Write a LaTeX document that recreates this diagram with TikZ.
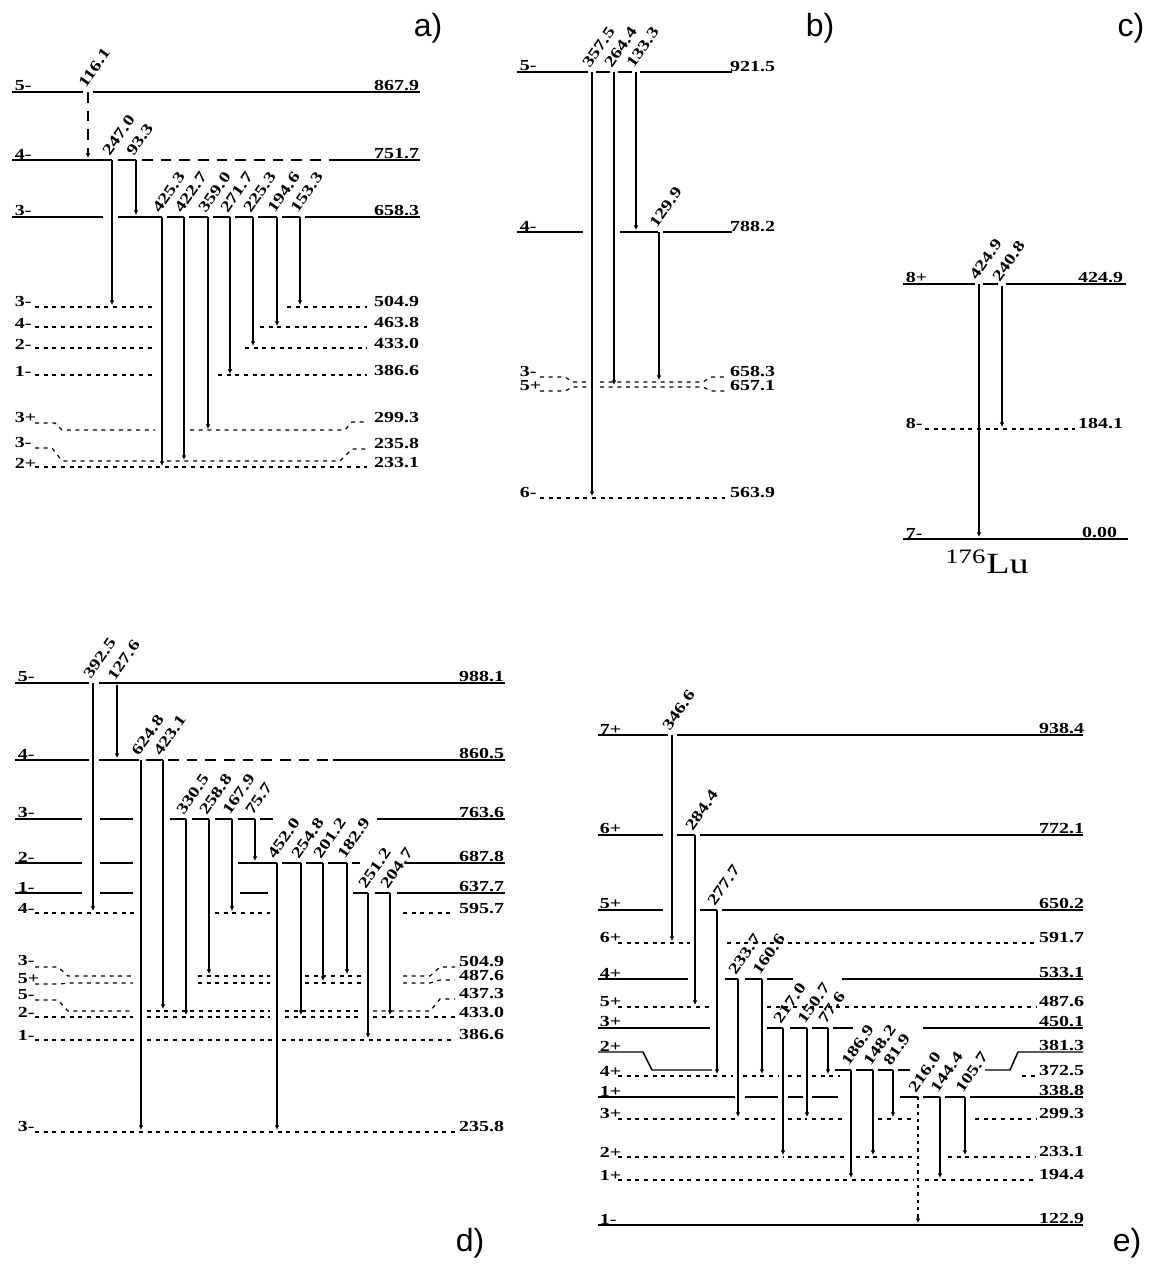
\documentclass[tikz,border=0pt]{standalone}
\usepackage{graphicx}
\usepackage{fontspec}
\setmainfont{Liberation Serif}
\newfontfamily\sansf{Liberation Sans}
\usetikzlibrary{arrows.meta}
\newcommand\mytxt[1]{\scalebox{1.3}[1]{\fontsize{11.5}{12}\selectfont\bfseries #1}}
\newcounter{nn}
\tikzset{
 lev/.style={line width=1.1pt},
 dl/.style={line width=0.9pt, dash pattern=on 3pt off 3.5pt},
 ldl/.style={line width=1pt, dash pattern=on 8pt off 6pt},
 sdl/.style={dash pattern=on 2.5pt off 3pt},
 tr/.style={line width=1pt, -{Latex[length=3.5pt,width=3.5pt]}},
 ll/.style={anchor=south west, inner sep=0.5pt},
 rl/.style={anchor=south east, inner sep=0.5pt},
 tl/.style={anchor=south west, inner sep=0pt, rotate=55},
 pl/.style={font=\sansf\fontsize{24}{26}\selectfont}
}
\newcommand\LL[3]{\stepcounter{nn}\node[ll] (n\thenn) at (#1,#2) {\mytxt{#3}};}
\newcommand\RL[3]{\stepcounter{nn}\node[rl] (n\thenn) at (#1,#2) {\mytxt{#3}};}
\newcommand\TR[6][]{\coordinate (#2t) at (#3,#4); \coordinate (#2b) at (#3,#5);
  \draw[tr,#1] (#2t) -- (#2b);
  \node[tl] (#2l) at ([shift={(-2,-3)}]#2t) {\mytxt{#6}};}
\newcommand\SL[3][lev]{\foreach \xa/\xb in {#3} {\draw[#1] (\xa,#2) -- (\xb,#2);}}
\begin{document}
\begin{tikzpicture}[x=0.75pt,y=-0.75pt]
\useasboundingbox (0,0) rectangle (1152,1264);
% ---------------- panel labels
\node[pl] (pa) at (428,28) {a)};
\node[pl] (pb) at (820,28) {b)};
\node[pl] (pc) at (1131,28) {c)};
\node[pl] (pd) at (470,1243) {d)};
\node[pl] (pe) at (1127,1243) {e)};
% ---------------- panel a
\LL{14}{92}{5-} \RL{420}{92}{867.9} \SL{92}{12/83,93/420}
\LL{14}{160}{4-} \RL{420}{160}{751.7} \SL{160}{12/112,118/136,330/420}
\draw[ldl] (142,160) -- (330,160);
\LL{14}{217}{3-} \RL{420}{217}{658.3}
\SL{217}{12/103,118/162,167/184,189/208,213/230,235/253,258/277,282/300,305/420}
\LL{14}{308}{3-} \RL{420}{308}{504.9} \SL[dl]{307}{35/155,287/367}
\LL{14}{329}{4-} \RL{420}{329}{463.8} \SL[dl]{327}{35/155,260/367}
\LL{14}{350}{2-} \RL{420}{350}{433.0} \SL[dl]{348}{35/155,245/367}
\LL{14}{377}{1-} \RL{420}{377}{386.6} \SL[dl]{375}{35/155,218/367}
\LL{14}{424}{3+} \RL{420}{424}{299.3}
\draw[dl] (35,423)--(55,423)--(62,430)--(155,430);
\draw[dl] (190,430)--(345,430)--(352,422)--(367,422);
\LL{14}{449}{3-} \RL{420}{450}{235.8}
\draw[dl] (35,448)--(52,448)--(62,461)--(157,461);
\draw[dl] (167,461)--(340,461)--(352,449)--(367,449);
\LL{14}{469}{2+} \RL{420}{469}{233.1} \SL[dl]{467}{35/367}
\TR[ldl]{a1}{88}{92}{158}{116.1}
\TR{a2}{112}{160}{305}{247.0}
\TR{a3}{136}{160}{215}{93.3}
\TR{a4}{162}{217}{466}{425.3}
\TR{a5}{184}{217}{460}{422.7}
\TR{a6}{208}{217}{429}{359.0}
\TR{a7}{230}{217}{374}{271.7}
\TR{a8}{253}{217}{346}{225.3}
\TR{a9}{277}{217}{326}{194.6}
\TR{a10}{300}{217}{305}{153.3}
% ---------------- panel b
\LL{519}{72}{5-} \RL{776}{73}{921.5} \SL{72}{517/588,596/610,618/632,640/732}
\LL{519}{232}{4-} \RL{776}{233}{788.2} \SL{232}{517/583,620/658,663/732}
\LL{519}{378}{3-} \RL{776}{378}{658.3}
\draw[dl] (540,377)--(565,377)--(573,382)--(587,382);
\draw[dl] (600,382)--(703,382)--(711,377)--(725,377);
\LL{519}{392}{5+} \RL{776}{392}{657.1}
\draw[dl] (540,391)--(565,391)--(573,387)--(587,387);
\draw[dl] (600,387)--(703,387)--(711,391)--(725,391);
\LL{519}{499}{6-} \RL{776}{499}{563.9} \SL[dl]{498}{540/725}
\TR{b1}{592}{72}{496}{357.5}
\TR{b2}{614}{72}{385}{264.4}
\TR{b3}{636}{72}{230}{133.3}
\TR{b4}{659}{232}{380}{129.9}
% ---------------- panel c
\LL{905}{284}{8+} \RL{1124}{284}{424.9} \SL{284}{903/975,983/998,1006/1126}
\LL{905}{430}{8-} \RL{1124}{430}{184.1} \SL[dl]{429}{925/1075}
\LL{905}{539}{7-} \RL{1118}{539}{0.00} \SL{539}{903/1128}
\TR{c1}{979}{284}{537}{424.9}
\TR{c2}{1002}{286}{427}{240.8}
\node (lu) at (987,562) {\scalebox{1.3}[1]{\fontsize{22}{24}\selectfont\textsuperscript{176}Lu}};
% ---------------- panel d
\LL{17}{683}{5-} \RL{505}{683}{988.1} \SL{683}{15/89,99/505}
\LL{17}{760}{4-} \RL{505}{760}{860.5} \SL{760}{15/89,99/139,146/163,333/505}
\draw[ldl] (168,760)--(333,760);
\LL{17}{819}{3-} \RL{505}{819}{763.6}
\SL{819}{15/82,100/133,170/186,192/209,215/232,238/255,260/273,377/505}
\LL{17}{863}{2-} \RL{505}{863}{687.8}
\SL{863}{15/82,100/133,238/277,282/301,306/323,328/347,352/360,405/505}
\LL{17}{893}{1-} \RL{505}{893}{637.7}
\SL{893}{15/82,100/133,240/268,353/368,375/390,397/505}
\LL{17}{914}{4-} \RL{505}{915}{595.7} \SL[dl]{913}{35/135,215/270,403/455}
\LL{17}{967}{3-} \RL{505}{968}{504.9}
\draw[dl] (35,967)--(58,967)--(68,976)--(133,976); \SL[dl]{976}{198/270,305/363};
\draw[dl] (403,976)--(430,976)--(440,967)--(455,967);
\LL{17}{985}{5+} \RL{505}{982}{487.6}
\draw[dl] (35,984)--(60,984)--(68,983)--(133,983); \SL[dl]{983}{198/270,305/363};
\draw[dl] (403,983)--(430,983)--(440,980)--(455,980);
\LL{17}{1001}{5-} \RL{505}{1000}{437.3}
\draw[dl] (35,1000)--(58,1000)--(68,1011)--(133,1011); \SL[dl]{1011}{147/270,285/363};
\draw[dl] (373,1011)--(430,1011)--(440,999)--(455,999);
\LL{17}{1018}{2-} \RL{505}{1019}{433.0} \SL[dl]{1017}{35/133,147/270,285/363,373/455}
\LL{17}{1041}{1-} \RL{505}{1041}{386.6} \SL[dl]{1040}{35/135,147/274,282/455}
\LL{17}{1133}{3-} \RL{505}{1133}{235.8} \SL[dl]{1132}{35/455}
\TR{d1}{93}{683}{911}{392.5}
\TR{d2}{117}{685}{758}{127.6}
\TR{d3}{141}{760}{1130}{624.8}
\TR{d4}{163}{760}{1009}{423.1}
\TR{d5}{186}{819}{1015}{330.5}
\TR{d6}{209}{819}{974}{258.8}
\TR{d7}{232}{819}{911}{167.9}
\TR{d8}{255}{819}{861}{75.7}
\TR{d9}{277}{863}{1130}{452.0}
\TR{d10}{301}{863}{1015}{254.8}
\TR{d11}{323}{863}{981}{201.2}
\TR{d12}{347}{863}{974}{182.9}
\TR{d13}{368}{893}{1038}{251.2}
\TR{d14}{390}{893}{1015}{204.7}
% ---------------- panel e
\LL{599}{735}{7+} \RL{1085}{735}{938.4} \SL{735}{598/668,677/1083}
\LL{599}{835}{6+} \RL{1085}{835}{772.1} \SL{835}{598/663,677/695,700/1083}
\LL{599}{910}{5+} \RL{1085}{910}{650.2} \SL{910}{598/663,700/717,722/1083}
\LL{599}{944}{6+} \RL{1085}{944}{591.7} \SL[dl]{943}{618/690,727/1036}
\LL{599}{979}{4+} \RL{1085}{979}{533.1} \SL{979}{598/688,725/738,745/762,767/793,842/1083}
\LL{599}{1008}{5+} \RL{1085}{1008}{487.6} \SL[dl]{1007}{618/712,767/1036}
\LL{599}{1028}{3+} \RL{1085}{1028}{450.1}
\SL{1028}{598/710,767/783,790/807,812/828,833/853,923/1083}
\LL{599}{1052}{2+} \RL{1085}{1052}{381.3}
\draw[lev] (598,1052)--(643,1052)--(652,1070)--(712,1070);
\SL{1070}{835/851,856/873,878/893,898/910}
\draw[lev] (985,1070)--(1010,1070)--(1018,1052)--(1083,1052);
\LL{599}{1077}{4+} \RL{1085}{1077}{372.5} \SL[dl]{1076}{618/733,743/778,788/803,812/840,1022/1036}
\LL{599}{1097}{1+} \RL{1085}{1097}{338.8}
\SL{1097}{598/735,745/778,788/803,812/838,900/918,923/940,945/965,970/1083}
\LL{599}{1120}{3+} \RL{1085}{1120}{299.3}
\SL[dl]{1119}{618/738,745/778,788/807,812/846,878/893,898/913,975/1036}
\LL{599}{1158}{2+} \RL{1085}{1158}{233.1} \SL[dl]{1157}{618/783,788/846,856/913,948/1036}
\LL{599}{1181}{1+} \RL{1085}{1181}{194.4} \SL[dl]{1180}{618/913,925/1036}
\LL{599}{1225}{1-} \RL{1085}{1225}{122.9} \SL{1225}{598/1083}
\TR{e1}{672}{735}{941}{346.6}
\TR{e2}{695}{835}{1005}{284.4}
\TR{e3}{717}{910}{1074}{277.7}
\TR{e4}{738}{979}{1117}{233.7}
\TR{e5}{762}{979}{1074}{160.6}
\TR{e6}{783}{1028}{1155}{217.0}
\TR{e7}{807}{1028}{1117}{150.7}
\TR{e8}{828}{1028}{1074}{77.6}
\TR{e9}{851}{1070}{1178}{186.9}
\TR{e10}{873}{1070}{1155}{148.2}
\TR{e11}{893}{1070}{1117}{81.9}
\TR[sdl]{e12}{918}{1097}{1223}{216.0}
\TR{e13}{940}{1097}{1178}{144.4}
\TR{e14}{965}{1097}{1155}{105.7}
\end{tikzpicture}
\end{document}
